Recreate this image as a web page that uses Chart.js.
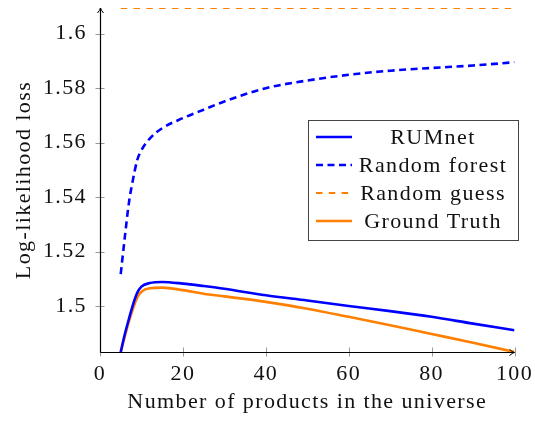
<!DOCTYPE html>
<html>
<head>
<meta charset="utf-8">
<script src="https://cdn.jsdelivr.net/npm/chart.js@4.4.1/dist/chart.umd.min.js"></script>
<style>
  html, body { margin: 0; padding: 0; background: #fff; }
  #wrap { width: 535px; height: 421px; }
</style>
</head>
<body>
<div id="wrap"><canvas id="chart"></canvas></div>
<script>
// values
const productCounts = [5, 6, 7, 8, 9, 10, 12, 15, 20, 25, 30, 40, 50, 60, 70, 80, 90, 100]
const rumnetLoss = [1.4832, 1.4898, 1.4955, 1.5008, 1.5050, 1.5072, 1.5085, 1.5089, 1.5083, 1.5074,
  1.5064, 1.5040, 1.5021, 1.5001, 1.4982, 1.4961, 1.4936, 1.4912]
const forestLoss = [1.5118, 1.5255, 1.5382, 1.5468, 1.5537, 1.5572, 1.5615, 1.5653, 1.5690, 1.5721,
  1.5751, 1.5800, 1.5828, 1.5849, 1.5864, 1.5874, 1.5883, 1.5895]
const truthLoss = [1.4832, 1.4890, 1.4945, 1.4993, 1.5032, 1.5053, 1.5066, 1.5068, 1.5059, 1.5046,
  1.5036, 1.5016, 1.4991, 1.4961, 1.4930, 1.4898, 1.4866, 1.4832]
const guessCounts = [5, 100]
const guessLoss = [1.6094, 1.6094]

const xTicks = [0, 20, 40, 60, 80, 100]
const yTicks = [1.5, 1.52, 1.54, 1.56, 1.58, 1.6]

const BLUE = '#0000ff'
const ORANGE = '#ff8000'
const FONT = "'Liberation Serif', 'DejaVu Serif', serif"

const toPoints = (xs, ys) => xs.map((x, i) => ({ x: x, y: ys[i] }))

// Times is narrower than Computer Modern, widen the text a little
const spacingPlugin = {
  id: 'spacing',
  beforeDraw(chart) {
    chart.ctx.letterSpacing = '1.4px'
  }
}

// axis lines with arrow heads and ticks crossing the axis (pgfplots "axis lines = left")
const axisPlugin = {
  id: 'axisPlugin',
  afterDatasetsDraw(chart) {
    const { ctx, chartArea: a, scales } = chart
    ctx.save()
    ctx.strokeStyle = '#999'
    ctx.lineWidth = 1
    xTicks.forEach(v => {
      const px = Math.round(scales.x.getPixelForValue(v)) + 0.5
      ctx.beginPath(); ctx.moveTo(px, a.bottom - 4.5); ctx.lineTo(px, a.bottom + 4.5); ctx.stroke()
    })
    yTicks.forEach(v => {
      const py = Math.round(scales.y.getPixelForValue(v)) + 0.5
      ctx.beginPath(); ctx.moveTo(a.left - 4.5, py); ctx.lineTo(a.left + 4.5, py); ctx.stroke()
    })
    ctx.strokeStyle = '#000'
    ctx.lineWidth = 1.2
    const left = Math.round(a.left) + 0.5
    const bottom = Math.round(a.bottom) + 0.5
    ctx.beginPath()
    ctx.moveTo(left, bottom); ctx.lineTo(left, a.top)
    ctx.moveTo(left, bottom); ctx.lineTo(a.right, bottom)
    ctx.stroke()
    // arrow heads
    ctx.lineWidth = 1
    ctx.beginPath()
    ctx.moveTo(left - 3, a.top + 5); ctx.quadraticCurveTo(left - 0.5, a.top + 2, left, a.top)
    ctx.quadraticCurveTo(left + 0.5, a.top + 2, left + 3, a.top + 5)
    ctx.moveTo(a.right - 5, bottom - 3); ctx.quadraticCurveTo(a.right - 2, bottom - 0.5, a.right, bottom)
    ctx.quadraticCurveTo(a.right - 2, bottom + 0.5, a.right - 5, bottom + 3)
    ctx.stroke()
    ctx.restore()
  }
}

// boxed legend with centred labels, drawn from the datasets
const legendPlugin = {
  id: 'boxLegend',
  afterDraw(chart) {
    const { ctx } = chart
    const box = { x: 308.5, y: 120.5, w: 210, h: 120 }
    ctx.save()
    ctx.fillStyle = '#fff'
    ctx.fillRect(box.x, box.y, box.w, box.h)
    ctx.strokeStyle = '#444'
    ctx.lineWidth = 1
    ctx.strokeRect(box.x, box.y, box.w, box.h)
    ctx.font = '22px ' + FONT
    ctx.textAlign = 'center'
    ctx.textBaseline = 'middle'
    chart.data.datasets.forEach((ds, i) => {
      const y = 137 + i * 28
      ctx.strokeStyle = ds.borderColor
      ctx.lineWidth = ds.borderWidth
      ctx.setLineDash(ds.borderDash || [])
      ctx.beginPath(); ctx.moveTo(316, y); ctx.lineTo(352, y); ctx.stroke()
      ctx.setLineDash([])
      ctx.fillStyle = '#111'
      ctx.fillText(ds.label, 433, y + 1)
    })
    ctx.restore()
  }
}

new Chart(document.getElementById('chart'), {
  type: 'line',
  data: {
    datasets: [
      { label: 'RUMnet', data: toPoints(productCounts, rumnetLoss), borderColor: BLUE, borderWidth: 2.6 },
      { label: 'Random forest', data: toPoints(productCounts, forestLoss), borderColor: BLUE, borderWidth: 2.6, borderDash: [7, 4.5] },
      { label: 'Random guess', data: toPoints(guessCounts, guessLoss), borderColor: ORANGE, borderWidth: 2, borderDash: [6.5, 6.3] },
      { label: 'Ground Truth', data: toPoints(productCounts, truthLoss), borderColor: ORANGE, borderWidth: 2.6 }
    ]
  },
  options: {
    responsive: true,
    maintainAspectRatio: false,
    animation: false,
    devicePixelRatio: 1,
    layout: { padding: { left: 0, right: 20.5, top: 8, bottom: 0 } },
    elements: {
      point: { radius: 0 },
      line: { cubicInterpolationMode: 'monotone', fill: false, borderCapStyle: 'butt' }
    },
    plugins: { legend: { display: false }, tooltip: { enabled: false } },
    scales: {
      x: {
        type: 'linear', min: 0, max: 100,
        grid: { display: false, drawTicks: false },
        border: { display: false },
        afterFit: s => { s.height = 69; s.paddingLeft = 0; s.paddingRight = 0 },
        ticks: { stepSize: 20, padding: 9, color: '#111', font: { family: FONT, size: 22 } },
        title: { display: true, text: 'Number of products in the universe', color: '#111', padding: { top: 0, bottom: 6 }, font: { family: FONT, size: 22 } }
      },
      y: {
        min: 1.4832, max: 1.6094,
        grid: { display: false, drawTicks: false },
        border: { display: false },
        afterFit: s => { s.width = 100; s.paddingTop = 0; s.paddingBottom = 0 },
        ticks: {
          stepSize: 0.02, includeBounds: false, padding: 13, color: '#111',
          font: { family: FONT, size: 22 },
          callback: v => String(Math.round(v * 100) / 100)
        },
        title: { display: true, text: 'Log-likelihood loss', color: '#111', padding: { top: 11, bottom: 0 }, font: { family: FONT, size: 22 } }
      }
    }
  },
  plugins: [spacingPlugin, axisPlugin, legendPlugin]
})
</script>
</body>
</html>
